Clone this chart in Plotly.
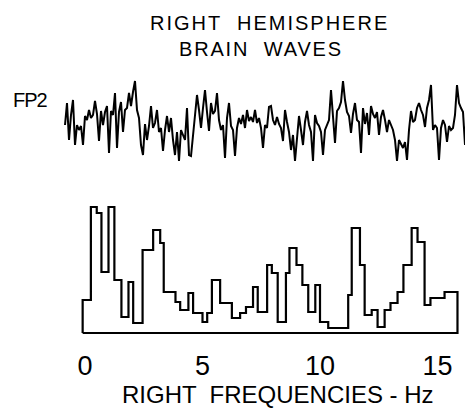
import plotly.graph_objects as go

# ---------------- data ----------------
title_line1 = "RIGHT  HEMISPHERE"
title_line2 = "BRAIN  WAVES"
channel_label = "FP2"
x_axis_title = "RIGHT  FREQUENCIES - Hz"
freq_ticks = [0, 5, 10, 15]

# FP2 raw trace (relative amplitude, one sample per step)
fp2_wave = [
    -5, 17, -20, 5,
    20, -25, -5, -10, -6, -25, 4, 0, 10, 2, 5, 19, 6, -21, 9, -5, 8, 14, -33, 9, 5,
    27, -28, 8, 18, -12, 10, 12, 27, 14, 28, 39, 10, 2, -25, -35, -4, -20, -6, 14, -8,
    -3, 10, -12, -8, -31, -10, 4, -12,
    2, -20, -35, -12, -41, -10, -16, -20, 12, -35, -36, -14, 5, 25, 10, -8, 12, 30, 8,
    -11, 17, 6, 9, 27, 0, -10, -5, -38, 2, 17, -6, -10, -36, -8, 2, -4, 5, -8, 10, -1,
    3, -2, 10, -3, 2, -8, -28, -5, -8, 13,
    14, 0, -5, 3, -4, -8, -21, 10, -2, -12, -30, -15, -41, -20, 4, -10, -25, -2, 9, -5,
    -12, -41, 5, -3, -6, -12, -35, -10, -5, 0, 30, 5, -23, 9, 12, 18, 39, 20, 8, 4,
    -13, 6, 17, 0, -2, -33, 12, -4, 7,
    -15, 14, 6, 2, 8, -15, 3, 10, 0, -12, 0, -5, -10, -20, -41, -20, -25, -28, -22, -40,
    -10, 9, -2, 0, 12, 17, 10, 5, -7, 12, 20, 35, -10, -5, -8, -40, -8, 0, -5, -22,
    -6, -10, -8, 5, 35, 17, 12, 8, -25, 14, 5,
]

# spectrum: bin edges (Hz) and level of each bin (relative power)
bin_edges_hz = [
    -0.1, 0.25, 0.5, 0.7, 1.0, 1.25, 1.55, 1.85, 2.05, 2.45, 2.9, 3.2, 3.35, 3.85,
    4.05, 4.4, 4.6, 5.0, 5.2, 5.4, 5.75, 6.25, 6.6, 6.85, 7.15, 7.35, 7.75, 7.95,
    8.2, 8.55, 8.7, 9.0, 9.25, 9.5, 9.8, 10.0, 10.35, 11.2, 11.35, 11.7, 11.9, 12.2,
    12.45, 12.75, 13.0, 13.3, 13.55, 13.9, 14.15, 14.45, 14.7, 15.3, 15.85,
]
band_power = [
    33, 126, 120, 61, 126, 53, 16, 51, 10, 83, 103, 90, 41, 31,
    23, 40, 20, 11, 20, 53, 30, 15, 20, 26, 46, 21, 68, 60,
    11, 60, 85, 68, 48, 21, 48, 11, 5, 38, 105, 68, 18, 23,
    6, 23, 30, 41, 68, 105, 91, 28, 35, 41,
]

# ---------------- figure ----------------
W, H = 473, 416
OFF = 8  # page body margin: figure is drawn 8px right/down in the window

step_x = [bin_edges_hz[0]] + bin_edges_hz[:-1] + [bin_edges_hz[-1], bin_edges_hz[0]]
step_y = [0] + band_power + [0, 0]

fig = go.Figure()
fig.add_trace(go.Scatter(
    x=list(range(len(fp2_wave))), y=fp2_wave, mode="lines",
    line=dict(color="black", width=2), xaxis="x2", yaxis="y2",
    hoverinfo="skip", showlegend=False,
))
fig.add_trace(go.Scatter(
    x=step_x, y=step_y, mode="lines", line_shape="hv",
    line=dict(color="black", width=2.2), xaxis="x", yaxis="y",
    hoverinfo="skip", showlegend=False,
))

# pixel (window) -> axis mappings
hz0_px, px_per_hz = 85.0 - OFF, 23.5
x_range = [(0 - hz0_px) / px_per_hz, (W - hz0_px) / px_per_hz]
wave0_px, wave_step = 65.0 - OFF, 2.0
x2_range = [(0 - wave0_px) / wave_step, (W - wave0_px) / wave_step]

base_px = 335.0 - OFF
spec_top_px = base_px - 140
wave_top_px, wave_bot_px = 60.0 - OFF, 180.0 - OFF

font_main = "Liberation Sans, Arial, sans-serif"

fig.update_layout(
    width=W, height=H,
    margin=dict(l=0, r=0, t=0, b=0),
    paper_bgcolor="white", plot_bgcolor="white",
    showlegend=False,
    xaxis=dict(
        domain=[0, 1], range=x_range, anchor="y",
        tickmode="array", tickvals=freq_ticks, ticktext=[str(v) for v in freq_ticks],
        ticks="outside", ticklen=7, tickcolor="rgba(0,0,0,0)",
        showgrid=False, zeroline=False, showline=False,
        tickfont=dict(family=font_main, size=27, color="black"),
    ),
    yaxis=dict(
        domain=[1 - base_px / H, 1 - spec_top_px / H], range=[-2, 138],
        visible=False, showgrid=False, zeroline=False,
    ),
    xaxis2=dict(
        domain=[0, 1], range=x2_range, anchor="y2", visible=False,
        showgrid=False, zeroline=False,
    ),
    yaxis2=dict(
        domain=[1 - wave_bot_px / H, 1 - wave_top_px / H], range=[-60, 60],
        anchor="x2", visible=False, showgrid=False, zeroline=False,
    ),
)

def ann(text, cx, cy, size, spacing):
    fig.add_annotation(
        text='<span style="letter-spacing:%spx">%s</span>' % (spacing, text),
        xref="paper", yref="paper", x=(cx - OFF) / W, y=1 - (cy - OFF) / H,
        xanchor="center", yanchor="middle", showarrow=False,
        font=dict(family=font_main, size=size, color="black"),
    )

ann(title_line1, 269, 23, 20, 2.0)
ann(title_line2, 261, 49, 20, 1.8)
ann(channel_label, 30, 100, 20, -1)
ann(x_axis_title, 278, 394, 24, 0)

fig.write_html("out.html")
